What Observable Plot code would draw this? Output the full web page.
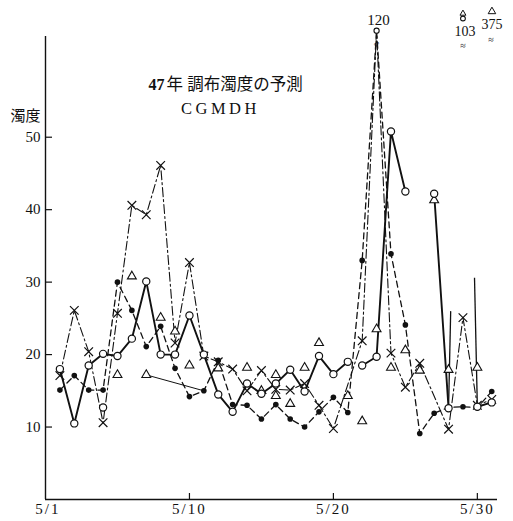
<!DOCTYPE html>
<html>
<head>
<meta charset="utf-8">
<script src="https://cdn.jsdelivr.net/npm/d3@7"></script>
<script src="https://cdn.jsdelivr.net/npm/@observablehq/plot@0.6"></script>
<style>
  html, body { margin: 0; padding: 0; background: #fff; }
  #chart svg { display: block; }
  g[aria-label="x-axis tick label"] text { letter-spacing: 2px; }
</style>
</head>
<body>
<div id="chart"></div>
<script>
// Daily turbidity, May (Showa 47), Chofu intake — observed and CGMDH predictions
const days = d3.range(1, 32);

// ○ solid line (5/29 reading is off the scale: 103)
const circleValues = [18.0, 10.5, 18.5, 20.1, 19.8, 22.2, 30.1, 20.0, 20.0, 25.4,
  20.0, 14.5, 12.1, 16.0, 14.6, 16.0, 17.9, 14.9, 19.8, 17.3,
  19.0, 18.5, 19.7, 50.8, 42.5, null, 42.2, 12.6, 103, 12.8, 13.4];
const circleBreaksAfter = [21];          // no line between 5/21 and 5/22
const circleStubFrom = [28, 30];         // lines heading to the off-scale 5/29 reading
const circleStubTop = [26.0, 30.6];      // where those lines are cut off

// ● dashed line (5/23 peak: 120)
const dotValues = [15.1, 17.1, 15.1, 15.1, 30.0, 26.1, 21.1, 23.9, 18.1, 14.2,
  15.0, 19.2, 13.1, 13.0, 11.1, 13.1, 11.1, 10.0, 12.1, 14.1,
  12.0, 33.0, 120, 33.9, 24.1, 9.1, 11.9, 12.7, 12.8, 12.7, 14.9];

// × dash-dot line (5/23 peak: 120)
const crossValues = [17.1, 26.1, 20.4, 10.6, 25.7, 40.6, 39.3, 46.1, 21.6, 32.7,
  19.8, 19.0, 18.0, 15.0, 17.8, 15.2, 15.1, 16.0, 13.0, 9.8,
  null, 21.9, 120, 20.2, 15.5, 18.8, null, 9.7, 25.1, 13.0, 13.8];

// △ points (5/29 reading off the scale: 375)
const triDays = [5, 6, 7, 8, 9, 10, 12, 14, 15, 16, 16, 17, 18, 19, 21, 22, 23, 24, 25, 26, 27, 28, 30];
const triValues = [17.2, 30.8, 17.2, 25.1, 23.2, 18.5, 18.1, 18.2, 15.0, 17.2, 14.3, 13.2,
  18.2, 21.6, 14.3, 10.8, 23.5, 18.2, 20.6, 17.8, 41.3, 17.9, 18.2];
const triLinkDays = [7, 11];
const triLinkValues = [17.2, 15.0];

// single open circle off the solid line
const looseCircleDays = [4];
const looseCircleValues = [12.7];

// off-scale readings
const peakDay = 23, peakValue = 120;
const offDay = 29, offCircle = 103, offTriangle = 375;

// axis
const yTicks = [10, 20, 30, 40, 50];
const xTicks = [10, 20, 30];
const firstDayLabel = "5/1";

const Y_TOP = 63.9;          // top of the value axis
const BREAK_LEVEL = 64.7;    // off-scale peaks are drawn just above the axis top

const serif = "'Liberation Serif', 'DejaVu Serif', 'Noto Sans CJK JP', serif";
const cjk = "'Liberation Serif', 'Noto Sans CJK JP', sans-serif";

function toRows(values, breaksAfter = []) {
  let seg = 0;
  return days.map((d, i) => {
    const row = {day: d, value: values[i], seg};
    if (breaksAfter.includes(d)) seg++;
    return row;
  });
}
const shown = (v) => (v == null ? NaN : v > Y_TOP ? BREAK_LEVEL : v);
const onScale = (r) => r.value != null && r.value <= Y_TOP;

const circleRows = toRows(circleValues, circleBreaksAfter);
const circleLine = circleRows.map(r => ({...r, y: r.value != null && r.value <= Y_TOP ? r.value : NaN}));
const dotRows = toRows(dotValues);
const crossRows = toRows(crossValues).filter(r => r.value != null);
const triRows = triDays.map((d, i) => ({day: d, value: triValues[i]}));
const triLink = triLinkDays.map((d, i) => ({day: d, value: triLinkValues[i]}));
const looseRows = looseCircleDays.map((d, i) => ({day: d, value: looseCircleValues[i]}));

const stubs = circleStubFrom.map((from, i) => {
  const v0 = circleValues[from - 1];
  const t = (circleStubTop[i] - v0) / (offCircle - v0);
  return {x1: from, y1: v0, x2: from + t * (offDay - from), y2: circleStubTop[i]};
});

const chart = Plot.plot({
  width: 513,
  height: 521,
  marginLeft: 45,
  marginRight: 16,
  marginTop: 36,
  marginBottom: 22,
  style: {fontFamily: serif, background: "#fff", color: "#111"},
  x: {domain: [0, 31.4], axis: null},
  y: {domain: [0, Y_TOP], axis: null},
  marks: [
    // axes
    Plot.ruleX([0], {stroke: "#111", strokeWidth: 1.4}),
    Plot.ruleY([0], {stroke: "#111", strokeWidth: 1.4}),
    Plot.axisY({ticks: yTicks, tickSize: 7, dx: 7, tickFormat: () => "", stroke: "#111", strokeWidth: 1.2}),
    Plot.axisY({ticks: yTicks, tickSize: 0, tickPadding: 5, fontSize: 15, fill: "#111"}),
    Plot.axisX({ticks: xTicks, tickSize: 6, dy: -6, tickFormat: () => "", stroke: "#111", strokeWidth: 1.2}),
    Plot.axisX({ticks: xTicks, tickSize: 0, tickPadding: 4, fontSize: 15, fill: "#111", tickFormat: d => `5/${d}`}),
    Plot.text([1], {x: d => d, frameAnchor: "bottom", dy: 4, dx: -12, lineAnchor: "top",
      text: () => firstDayLabel, fontSize: 15, fill: "#111", className: "xlabel"}),

    // axis label and titles
    Plot.text(["濁度"], {frameAnchor: "top-left", dx: -20, dy: 74, textAnchor: "middle",
      fontSize: 15, fontFamily: cjk, fill: "#111"}),
    Plot.text(["47"], {frameAnchor: "top-left", dx: 103, dy: 53, lineAnchor: "bottom", textAnchor: "start",
      fontSize: 16, fontWeight: "bold", fill: "#111"}),
    Plot.text(["年 調布濁度の予測"], {frameAnchor: "top-left", dx: 121, dy: 53, lineAnchor: "bottom", textAnchor: "start",
      fontSize: 16.5, fontFamily: cjk, fill: "#111"}),
    Plot.text(["CGMDH"], {frameAnchor: "top-left", dx: 175, dy: 77, lineAnchor: "bottom", textAnchor: "middle",
      fontSize: 16.5, fill: "#111"}),

    // lines
    Plot.line(triLink, {x: "day", y: "value", stroke: "#111", strokeWidth: 1}),
    Plot.line(crossRows, {x: "day", y: r => shown(r.value), stroke: "#111", strokeWidth: 1.1,
      strokeDasharray: "9,3,2,3"}),
    Plot.line(dotRows, {x: "day", y: r => shown(r.value), stroke: "#111", strokeWidth: 1.3,
      strokeDasharray: "6,4"}),
    Plot.line(circleLine, {x: "day", y: "y", z: "seg", stroke: "#111", strokeWidth: 1.9}),
    Plot.link(stubs, {x1: "x1", y1: "y1", x2: "x2", y2: "y2", stroke: "#111", strokeWidth: 1.3}),

    // markers
    Plot.dot(triRows, {x: "day", y: "value", symbol: "triangle", r: 3.3, fill: "#fff", stroke: "#111", strokeWidth: 1.1}),
    Plot.dot(crossRows.filter(onScale), {x: "day", y: "value", symbol: "times", r: 4, stroke: "#111", strokeWidth: 1.2}),
    Plot.dot(dotRows.filter(onScale), {x: "day", y: "value", r: 2.8, fill: "#111", stroke: "none"}),
    Plot.dot(circleRows.filter(onScale), {x: "day", y: "value", r: 3.6, fill: "#fff", stroke: "#111", strokeWidth: 1.2}),
    Plot.dot(looseRows, {x: "day", y: "value", r: 3.6, fill: "#fff", stroke: "#111", strokeWidth: 1.2}),

    // off-scale peak on 5/23
    Plot.dot([peakValue], {x: () => peakDay, y: () => BREAK_LEVEL, r: 2.6, fill: "#fff", stroke: "#111", strokeWidth: 1.1}),
    Plot.text(["≈"], {x: () => peakDay, y: () => BREAK_LEVEL, dy: 13, fontSize: 10, fill: "#111", rotate: -60}),
    Plot.text([peakValue], {x: () => peakDay, frameAnchor: "top", dx: 2, dy: -12, lineAnchor: "bottom",
      fontSize: 15, fill: "#111"}),

    // off-scale readings on 5/29
    Plot.text([offCircle], {x: () => offDay, frameAnchor: "top", dx: 2, dy: -1, lineAnchor: "bottom",
      fontSize: 14, fill: "#111"}),
    Plot.dot([offCircle], {x: () => offDay, frameAnchor: "top", dy: -18, r: 2.4, fill: "#fff", stroke: "#111", strokeWidth: 1.1}),
    Plot.dot([offCircle], {x: () => offDay, frameAnchor: "top", dy: -23, symbol: "triangle", r: 2.2, fill: "#fff", stroke: "#111", strokeWidth: 1}),
    Plot.text(["≈"], {x: () => offDay, frameAnchor: "top", dy: 5, dx: 0, fontSize: 10, fill: "#111"}),
    Plot.text([offTriangle], {x: () => offDay, frameAnchor: "top", dx: 29, dy: -8, lineAnchor: "bottom",
      fontSize: 14, fill: "#111"}),
    Plot.dot([offTriangle], {x: () => offDay, frameAnchor: "top", dx: 29, dy: -25, symbol: "triangle", r: 2.8, fill: "#fff", stroke: "#111", strokeWidth: 1}),
    Plot.text(["≈"], {x: () => offDay, frameAnchor: "top", dx: 28, dy: -1, fontSize: 10, fill: "#111"})
  ]
});

document.getElementById("chart").appendChild(chart);
d3.select(chart).selectAll("text").filter(function () { return this.textContent === "CGMDH"; })
  .style("letter-spacing", "3.5px");
d3.select(chart).selectAll("text").filter(function () { return this.textContent === firstDayLabel; })
  .style("letter-spacing", "2px");
</script>
</body>
</html>
